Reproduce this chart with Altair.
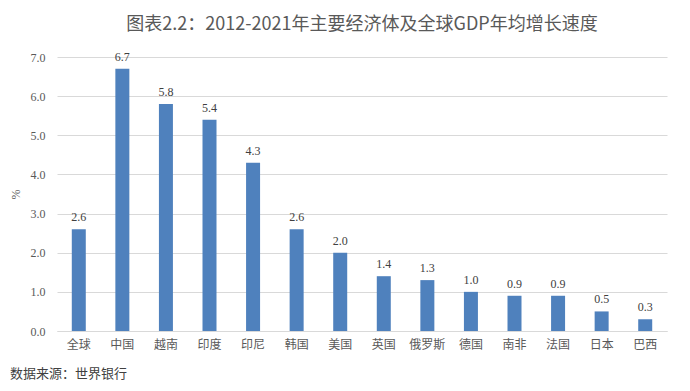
import altair as alt
import pandas as pd

categories = ["全球", "中国", "越南", "印度", "印尼", "韩国", "美国", "英国", "俄罗斯", "德国", "南非", "法国", "日本", "巴西"]
values = [2.6, 6.7, 5.8, 5.4, 4.3, 2.6, 2.0, 1.4, 1.3, 1.0, 0.9, 0.9, 0.5, 0.3]
y_ticks = [0, 1, 2, 3, 4, 5, 6, 7]

df = pd.DataFrame({"cat": categories, "val": values})

serif = "Liberation Serif"
cjk = "Noto Sans CJK SC"

x = alt.X("cat:N", sort=categories, title=None,
          scale=alt.Scale(paddingInner=0.68, paddingOuter=0.34),
          axis=alt.Axis(labelAngle=0, labelFont=cjk, labelFontSize=12, labelColor="#595959",
                        ticks=False, domain=True, domainColor="#d9d9d9", labelPadding=8))
y = alt.Y("val:Q", title="%",
          scale=alt.Scale(domain=[0, 7]),
          axis=alt.Axis(values=y_ticks, tickCount=8, format=".1f", labelFont=serif, labelFontSize=12,
                        labelColor="#595959", ticks=False, domain=False, gridColor="#d9d9d9",
                        labelOverlap=False,
                        titleFont=serif, titleFontSize=12, titleColor="#595959",
                        titleFontWeight="normal", titlePadding=8, labelPadding=12))

bars = alt.Chart(df).mark_bar(color="#4f81bd", size=14).encode(x=x, y=y)
labels = alt.Chart(df).mark_text(baseline="bottom", dy=-5, font=serif, fontSize=12, color="#404040").encode(
    x=x, y=y, text=alt.Text("val:Q", format=".1f"))

source = alt.Chart(pd.DataFrame({"t": ["数据来源：世界银行"]})).mark_text(
    align="left", baseline="middle", font=cjk, fontSize=13, color="#404040").encode(
    x=alt.value(-47), y=alt.value(317), text="t:N")

chart = alt.layer(bars, labels, source).properties(
    width=610, height=274,
    padding={"left": 49, "top": 49, "right": 8, "bottom": 52},
    autosize="none",
    title=alt.TitleParams("图表2.2：2012-2021年主要经济体及全球GDP年均增长速度",
                          font=cjk, fontSize=18, fontWeight="normal", color="#595959",
                          anchor="middle", offset=17)
).configure_view(stroke=None)

chart.save("out.html", embed_options={"renderer": "svg", "actions": False})
